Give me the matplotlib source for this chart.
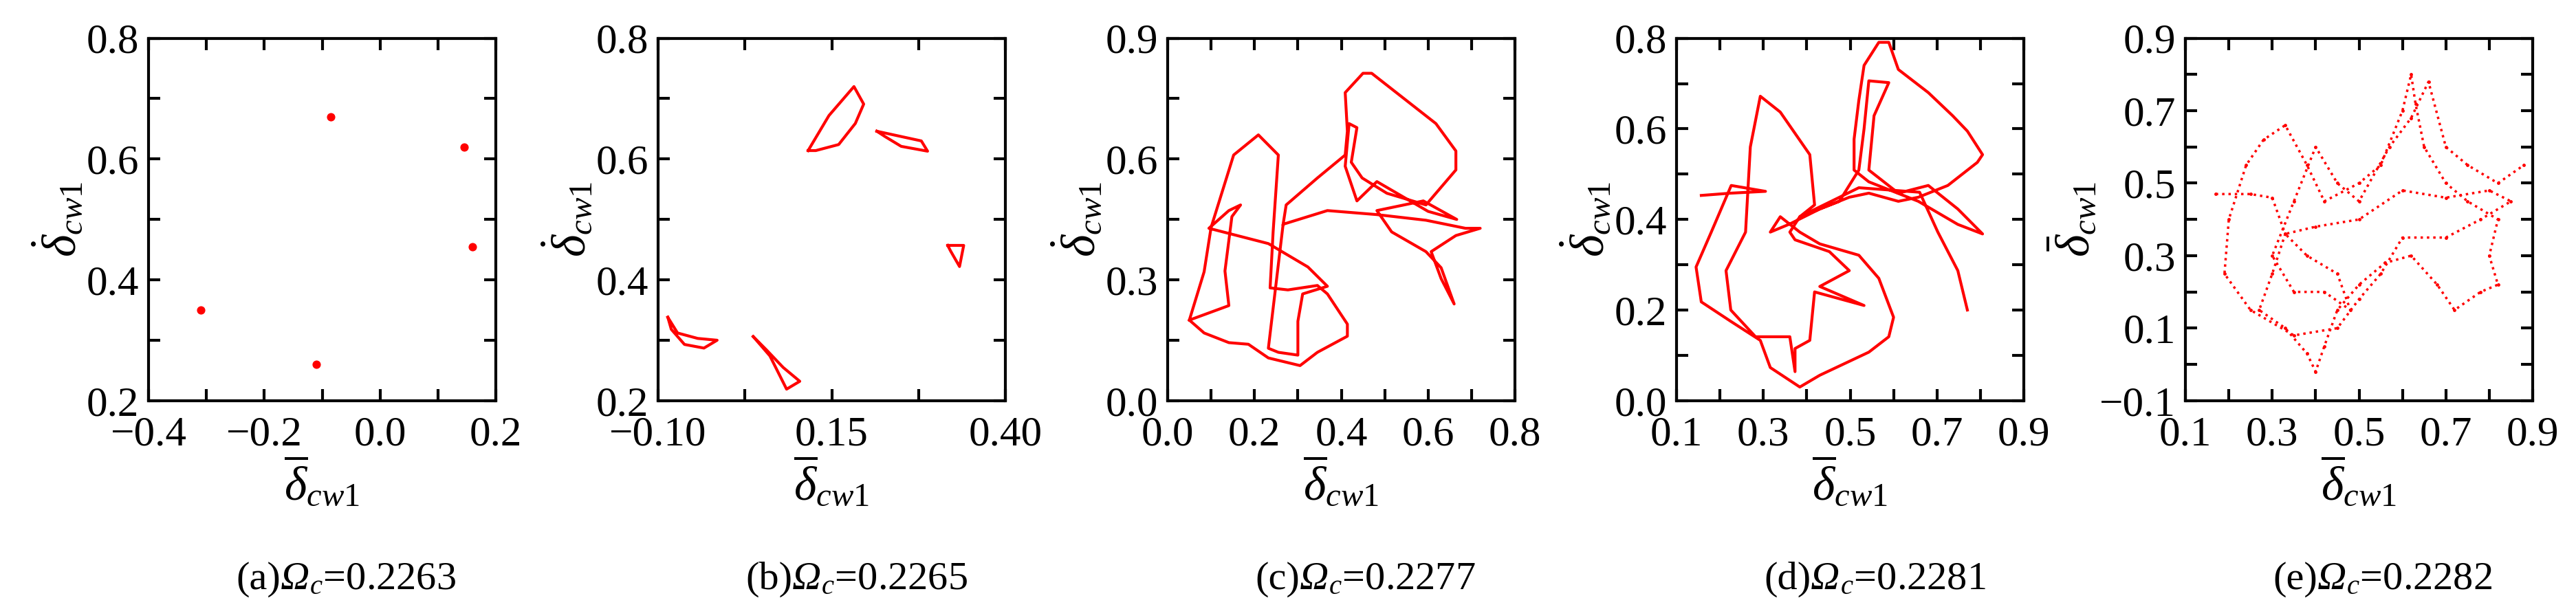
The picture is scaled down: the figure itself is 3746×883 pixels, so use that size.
import numpy as np
import matplotlib.pyplot as plt
from matplotlib.ticker import AutoMinorLocator

plt.rcParams['font.family'] = ['Liberation Serif', 'DejaVu Serif']
plt.rcParams['mathtext.fontset'] = 'custom'
plt.rcParams['mathtext.rm'] = 'Liberation Serif'
plt.rcParams['mathtext.it'] = 'Liberation Serif:italic'
plt.rcParams['mathtext.bf'] = 'Liberation Serif:bold'

captions = ['(a)', '(b)', '(c)', '(d)', '(e)']
omegas = ['0.2263', '0.2265', '0.2277', '0.2281', '0.2282']

# (a) period points
a_x = [-0.31, -0.11, -0.085, 0.145, 0.16]
a_y = [0.35, 0.26, 0.67, 0.62, 0.455]

# (b) small closed loops
b_loops = [
    ([0.116, 0.146, 0.182, 0.196, 0.184, 0.160, 0.127, 0.116],
     [0.614, 0.672, 0.720, 0.691, 0.659, 0.624, 0.614, 0.614]),
    ([0.215, 0.279, 0.288, 0.250, 0.227, 0.215],
     [0.646, 0.630, 0.613, 0.621, 0.637, 0.646]),
    ([0.317, 0.340, 0.334, 0.321, 0.317],
     [0.457, 0.457, 0.422, 0.448, 0.457]),
    ([-0.086, -0.081, -0.062, -0.034, -0.015, -0.043, -0.072, -0.086],
     [0.338, 0.318, 0.293, 0.287, 0.300, 0.303, 0.312, 0.338]),
    ([0.037, 0.061, 0.085, 0.104, 0.080, 0.056, 0.037],
     [0.306, 0.274, 0.219, 0.232, 0.255, 0.284, 0.306]),
]

# (c) trajectory
c_x = [0.05, 0.084, 0.10, 0.152, 0.209, 0.255, 0.243, 0.236, 0.277, 0.345, 0.368, 0.414,
       0.414, 0.345, 0.305, 0.232, 0.186, 0.141, 0.084, 0.05, 0.141, 0.132, 0.148, 0.168,
       0.141, 0.095, 0.232, 0.323, 0.368, 0.311, 0.30, 0.30, 0.255, 0.232, 0.266, 0.368,
       0.482, 0.595, 0.686, 0.72, 0.664, 0.607, 0.63, 0.66, 0.63, 0.595, 0.516, 0.482,
       0.589, 0.666, 0.60, 0.482, 0.436, 0.409, 0.418, 0.436, 0.423, 0.448, 0.505, 0.595,
       0.664, 0.664, 0.618, 0.47, 0.45, 0.409, 0.414, 0.409, 0.345, 0.273, 0.266]
c_y = [0.20, 0.32, 0.43, 0.61, 0.66, 0.61, 0.42, 0.28, 0.275, 0.286, 0.265, 0.19,
       0.16, 0.12, 0.087, 0.106, 0.14, 0.144, 0.168, 0.20, 0.236, 0.322, 0.457, 0.486,
       0.472, 0.428, 0.39, 0.332, 0.284, 0.265, 0.197, 0.113, 0.12, 0.13, 0.438, 0.472,
       0.462, 0.448, 0.428, 0.428, 0.41, 0.37, 0.303, 0.24, 0.33, 0.37, 0.419, 0.472,
       0.496, 0.45, 0.47, 0.544, 0.496, 0.582, 0.688, 0.678, 0.592, 0.553, 0.515, 0.486,
       0.573, 0.62, 0.688, 0.813, 0.813, 0.765, 0.669, 0.61, 0.553, 0.486, 0.438]

# (d) trajectory
d_x = [0.157, 0.225, 0.305, 0.226, 0.18, 0.145, 0.157, 0.225, 0.293, 0.316, 0.384, 0.43,
       0.543, 0.589, 0.60, 0.566, 0.52, 0.43, 0.384, 0.339, 0.316, 0.361, 0.43, 0.498,
       0.543, 0.611, 0.657, 0.725, 0.793, 0.805, 0.77, 0.736, 0.68, 0.611, 0.589, 0.566,
       0.532, 0.52, 0.509, 0.509, 0.543, 0.657, 0.748, 0.805, 0.748, 0.68, 0.611, 0.543,
       0.555, 0.589, 0.543, 0.532, 0.52, 0.475, 0.384, 0.361, 0.373, 0.452, 0.498, 0.43,
       0.532, 0.418, 0.407, 0.373, 0.373, 0.361, 0.282, 0.225, 0.214, 0.259, 0.27, 0.293,
       0.339, 0.407, 0.418, 0.384, 0.52, 0.66, 0.702, 0.748, 0.77]
d_y = [0.453, 0.458, 0.462, 0.475, 0.372, 0.295, 0.218, 0.175, 0.133, 0.073, 0.03, 0.056,
       0.107, 0.141, 0.184, 0.27, 0.321, 0.346, 0.372, 0.406, 0.372, 0.39, 0.423, 0.449,
       0.458, 0.44, 0.449, 0.475, 0.526, 0.543, 0.595, 0.629, 0.68, 0.731, 0.791, 0.791,
       0.74, 0.663, 0.577, 0.509, 0.483, 0.44, 0.389, 0.368, 0.423, 0.475, 0.458, 0.509,
       0.629, 0.702, 0.706, 0.60, 0.509, 0.44, 0.406, 0.372, 0.355, 0.329, 0.287, 0.252,
       0.21, 0.24, 0.133, 0.115, 0.064, 0.141, 0.141, 0.20, 0.287, 0.372, 0.56, 0.672,
       0.637, 0.543, 0.432, 0.406, 0.47, 0.46, 0.372, 0.287, 0.20]

# (e) chaotic cloud
e_x = [0.17, 0.25, 0.30, 0.33, 0.30, 0.27, 0.33, 0.38, 0.40, 0.42, 0.45, 0.50, 0.56, 0.62,
       0.68, 0.72, 0.78, 0.82, 0.80, 0.82, 0.75, 0.70, 0.65, 0.63, 0.62, 0.60, 0.55, 0.50,
       0.42, 0.38, 0.33, 0.28, 0.24, 0.20, 0.19, 0.25, 0.35, 0.45, 0.50, 0.55, 0.60, 0.70,
       0.78, 0.85, 0.80, 0.70, 0.60, 0.50, 0.40, 0.33, 0.38, 0.45, 0.48, 0.42, 0.35, 0.30,
       0.35, 0.40, 0.45, 0.50, 0.57, 0.62, 0.66, 0.70, 0.75, 0.82, 0.88]
e_y = [0.47, 0.47, 0.46, 0.36, 0.25, 0.15, 0.10, 0.03, -0.02, 0.05, 0.15, 0.22, 0.28, 0.30,
       0.22, 0.15, 0.20, 0.22, 0.30, 0.40, 0.45, 0.50, 0.60, 0.72, 0.80, 0.70, 0.55, 0.50,
       0.45, 0.55, 0.66, 0.62, 0.55, 0.40, 0.25, 0.15, 0.08, 0.10, 0.18, 0.25, 0.35, 0.35,
       0.40, 0.45, 0.48, 0.46, 0.48, 0.40, 0.38, 0.36, 0.30, 0.25, 0.15, 0.20, 0.20, 0.30,
       0.45, 0.60, 0.50, 0.45, 0.60, 0.68, 0.78, 0.60, 0.55, 0.50, 0.55]

xlims = [(-0.4, 0.2), (-0.10, 0.40), (0.0, 0.8), (0.1, 0.9), (0.1, 0.9)]
xticks = [[-0.4, -0.2, 0.0, 0.2], [-0.10, 0.15, 0.40], [0.0, 0.2, 0.4, 0.6, 0.8],
          [0.1, 0.3, 0.5, 0.7, 0.9], [0.1, 0.3, 0.5, 0.7, 0.9]]
xfmt = ['%.1f', '%.2f', '%.1f', '%.1f', '%.1f']
ylims = [(0.2, 0.8), (0.2, 0.8), (0.0, 0.9), (0.0, 0.8), (-0.1, 0.9)]
yticks = [[0.2, 0.4, 0.6, 0.8], [0.2, 0.4, 0.6, 0.8], [0.0, 0.3, 0.6, 0.9],
          [0.0, 0.2, 0.4, 0.6, 0.8], [-0.1, 0.1, 0.3, 0.5, 0.7, 0.9]]
ylabels = [r'$\dot{\delta}_{cw1}$'] * 4 + [r'$\bar{\delta}_{cw1}$']

fig = plt.figure(figsize=(37.46, 8.83), dpi=100)
lefts = [216, 957, 1698, 2438, 3178]
red = '#ff0000'
for i in range(5):
    ax = fig.add_axes([lefts[i] / 3746, 0.340, 505 / 3746, 0.597])
    if i == 0:
        ax.scatter(a_x, a_y, s=60, color=red, marker='o')
    elif i == 1:
        for lx, ly in b_loops:
            ax.plot(lx, ly, color=red, lw=3)
    elif i == 2:
        ax.plot(c_x, c_y, color=red, lw=3)
    elif i == 3:
        ax.plot(d_x, d_y, color=red, lw=3)
    else:
        ax.plot(e_x, e_y, color=red, lw=2.5, ls=':', marker='.', ms=5)
    ax.set_xlim(*xlims[i])
    ax.set_ylim(*ylims[i])
    ax.set_xticks(xticks[i])
    ax.set_xticklabels([(xfmt[i] % v).replace('-', '\u2212') for v in xticks[i]])
    ax.set_yticks(yticks[i])
    ax.set_yticklabels([('%.1f' % v).replace('-', '\u2212') for v in yticks[i]])
    ax.xaxis.set_minor_locator(AutoMinorLocator(2))
    ax.yaxis.set_minor_locator(AutoMinorLocator(2))
    ax.tick_params(which='both', direction='in', top=True, right=True,
                   labelsize=44, width=3, length=12)
    ax.tick_params(axis='x', pad=16)
    ax.tick_params(axis='y', pad=10)
    for s in ax.spines.values():
        s.set_linewidth(3)
    ax.set_xlabel(r'$\overline{\delta}_{cw1}$', fontsize=50, labelpad=2)
    ax.set_ylabel(ylabels[i], fontsize=50, labelpad=0)

    # caption: (a) + italic Omega + subscript c + value
    t1 = fig.text((lefts[i] + 252 - 125) / 3746, 0.03, captions[i],
                  ha='left', va='baseline', fontsize=42)
    t2 = ax.annotate('\u03a9', xy=(1, 0), xycoords=t1, ha='left', va='bottom',
                     fontsize=42, style='italic', annotation_clip=False)
    ax.annotate(r'$_{c}$=' + omegas[i], xy=(1, 0), xycoords=t2, ha='left',
                va='bottom', fontsize=42, annotation_clip=False)

fig.savefig('out.png', dpi=100)
